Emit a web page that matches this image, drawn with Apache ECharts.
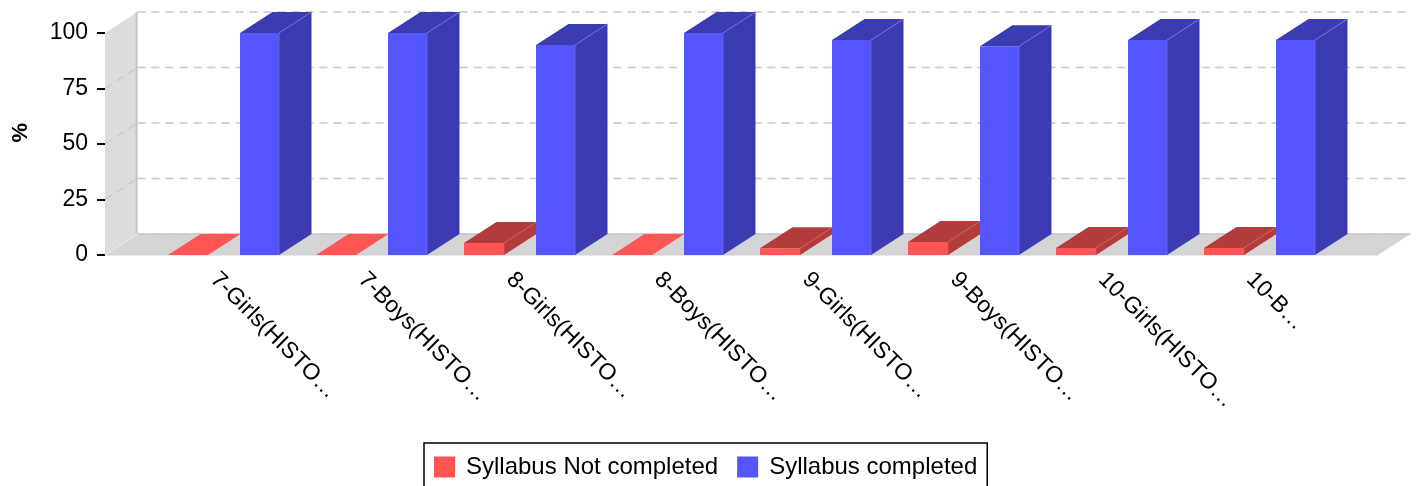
<!DOCTYPE html>
<html>
<head>
<meta charset="utf-8">
<script src="https://cdn.jsdelivr.net/npm/echarts@6/dist/echarts.min.js"></script>
<style>
html,body{margin:0;padding:0;background:#fff;}
#chart{width:1422px;height:486px;}
</style>
</head>
<body>
<div id="chart"></div>
<script>
// ---- data ----
var categories = ['7-Girls(HISTO…','7-Boys(HISTO…','8-Girls(HISTO…','8-Boys(HISTO…','9-Girls(HISTO…','9-Boys(HISTO…','10-Girls(HISTO…','10-B…'];
var notCompleted = [0, 0, 5.4, 0, 3, 5.9, 3.2, 3.2];
var completed = [100, 100, 94.6, 100, 96.8, 94, 96.8, 96.8];
var yTicks = [0, 25, 50, 75, 100];

// ---- style constants ----
var DX = 32.5, DY = -21;
var FLOOR_EXT_L = 35, FLOOR_EXT_R = 54;
var BAR_OFF = [[-46, -6], [26, 65]];
var FRONT = ['#ff5555', '#5555ff'];
var DARK = ['#b23b3b', '#3b3bb2'];
var EDGE = ['#d06060', '#7070e0'];

var chart = echarts.init(document.getElementById('chart'));

function barRender(s) {
  return function (params, api) {
    var idx = api.value(0), val = api.value(1);
    var base = api.coord([idx, 0]);
    var top = api.coord([idx, val]);
    var cx = base[0], yB = base[1], yT = top[1];
    var x1 = cx + BAR_OFF[s][0], x2 = cx + BAR_OFF[s][1];
    var children = [];
    children.push({type: 'polygon', shape: {points: [[x2, yT], [x2 + DX, yT + DY], [x2 + DX, yB + DY], [x2, yB]]}, style: {fill: DARK[s]}});
    children.push({type: 'polygon', shape: {points: [[x1, yT], [x2, yT], [x2 + DX, yT + DY], [x1 + DX, yT + DY]]}, style: {fill: val === 0 ? FRONT[s] : DARK[s]}});
    if (val > 0) {
      children.push({type: 'rect', shape: {x: x1, y: yT, width: x2 - x1, height: yB - yT}, style: {fill: FRONT[s]}});
      children.push({type: 'line', shape: {x1: x2, y1: yT, x2: x2 + DX, y2: yT + DY}, style: {stroke: EDGE[s], lineWidth: 1}});
      children.push({type: 'line', shape: {x1: x2, y1: yT, x2: x2, y2: yB}, style: {stroke: EDGE[s], lineWidth: 0.8}});
    }
    return {type: 'group', children: children};
  };
}

function frameRender(params, api) {
  var cs = params.coordSys;
  var y0 = api.coord([0, 0])[1];
  var y100 = api.coord([0, 100])[1];
  var fl = cs.x - FLOOR_EXT_L, fr = cs.x + cs.width + FLOOR_EXT_R;
  var bl = fl + DX, br = fr + DX;
  var ch = [];
  ch.push({type: 'polygon', shape: {points: [[fl, y100], [bl, y100 + DY], [bl, y0 + DY], [fl, y0]]}, style: {fill: '#dcdcdc'}});
  yTicks.forEach(function (v) {
    var y = api.coord([0, v])[1];
    ch.push({type: 'line', shape: {x1: bl, y1: y + DY, x2: br, y2: y + DY}, style: {stroke: '#c8c8c8', lineWidth: 1.5, lineDash: [8, 6]}});
    if (v > 0 && v < 100) {
      ch.push({type: 'line', shape: {x1: fl, y1: y, x2: bl, y2: y + DY}, style: {stroke: '#c4c4c4', lineWidth: 1.2, lineDash: [8, 6]}});
    }
  });
  ch.push({type: 'line', shape: {x1: bl - 1, y1: y100 + DY, x2: bl - 1, y2: y0 + DY}, style: {stroke: '#c6c6c6', lineWidth: 2}});
  ch.push({type: 'polygon', shape: {points: [[fl, y0], [fr, y0], [br, y0 + DY], [bl, y0 + DY]]}, style: {fill: '#d4d4d4'}});
  ch.push({type: 'line', shape: {x1: bl, y1: y0 + DY, x2: br, y2: y0 + DY}, style: {stroke: '#c8c8c8', lineWidth: 1.5}});
  ch.push({type: 'line', shape: {x1: fl, y1: y0, x2: bl, y2: y0 + DY}, style: {stroke: '#e4e4e4', lineWidth: 1.5}});
  ch.push({type: 'line', shape: {x1: fl, y1: y0 + 0.5, x2: fr, y2: y0 + 0.5}, style: {stroke: '#e8e8e8', lineWidth: 1}});
  return {type: 'group', children: ch};
}

function toData(arr) { return arr.map(function (v, i) { return [i, v]; }); }

var option = {
  animation: false,
  backgroundColor: '#fff',
  textStyle: {fontFamily: 'Liberation Sans, Arial, sans-serif'},
  grid: {left: 140, width: 1184, top: 33, height: 222},
  xAxis: {
    type: 'category',
    data: categories,
    axisLine: {show: false},
    axisTick: {show: false},
    splitLine: {show: false},
    axisLabel: {rotate: -45, fontSize: 23, color: '#000', margin: 21, interval: 0}
  },
  yAxis: {
    type: 'value',
    min: 0, max: 100, interval: 25,
    offset: 35,
    axisLine: {show: false},
    axisTick: {show: true, length: 8, lineStyle: {color: '#000', width: 2}},
    splitLine: {show: false},
    axisLabel: {fontSize: 23, color: '#000', margin: 17}
  },
  graphic: [{
    type: 'text', left: 10, top: 123, rotation: Math.PI / 2,
    style: {text: '%', font: 'bold 22px Liberation Sans, Arial, sans-serif', fill: '#000'}
  }],
  legend: {
    data: ['Syllabus Not completed', 'Syllabus completed'],
    left: 424, top: 443,
    icon: 'rect', itemWidth: 21, itemHeight: 21, itemGap: 19,
    padding: [12, 10, 20, 10],
    borderColor: '#000', borderWidth: 1.5,
    textStyle: {fontSize: 24, color: '#000', padding: [0, 0, 0, 6]}
  },
  series: [
    {type: 'custom', name: 'frame', z: 1, silent: true, data: [[0, 0]], renderItem: frameRender},
    {type: 'custom', name: 'Syllabus Not completed', z: 3, color: FRONT[0], itemStyle: {color: FRONT[0]}, data: toData(notCompleted), renderItem: barRender(0), encode: {x: 0, y: 1}},
    {type: 'custom', name: 'Syllabus completed', z: 3, color: FRONT[1], itemStyle: {color: FRONT[1]}, data: toData(completed), renderItem: barRender(1), encode: {x: 0, y: 1}}
  ]
};
chart.setOption(option);
</script>
</body>
</html>
